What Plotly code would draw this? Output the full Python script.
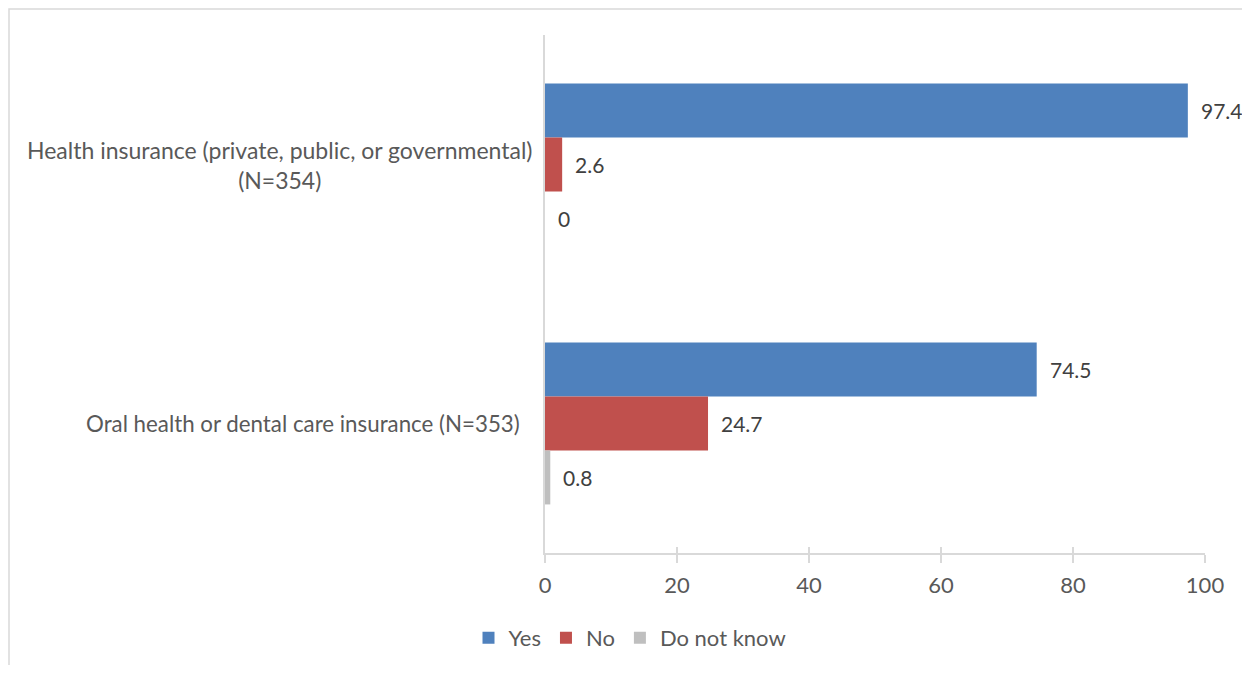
import plotly.graph_objects as go

categories = ["Health insurance (private, public, or governmental)<br>(N=354)",
              "Oral health or dental care insurance (N=353)"]
cat_keys = ["Health", "Oral"]
series_names = ["Yes", "No", "Do not know"]
yes_vals = [97.4, 74.5]
no_vals = [2.6, 24.7]
dk_vals = [0, 0.8]
series_values = [yes_vals, no_vals, dk_vals]
colors = ["#4F81BD", "#C0504D", "#BFBFBF"]
x_ticks = [0, 20, 40, 60, 80, 100]

OFF = 8  # page body margin
W, H = 1250 - 2 * OFF, 673 - 2 * OFF
L, T = 545 - OFF, 35 - OFF
R = W - (1205 - OFF)
B = H - (553 - OFF)
pw, ph = W - L - R, H - T - B

def px_to_paper_x(px):
    return (px - OFF - L) / pw

def px_to_paper_y(py):
    return (H - B - (py - OFF)) / ph

def px_to_cont_x(px):
    return (px - OFF) / W

def px_to_cont_y(py):
    return 1 - (py - OFF) / H

MAIN = "Lato, Carlito, Calibri, Open Sans, sans-serif"

fig = go.Figure()
for name, vals, col in zip(series_names, series_values, colors):
    fig.add_trace(go.Bar(
        y=cat_keys, x=vals, name=name, orientation="h",
        marker=dict(color=col, line=dict(width=0)),
        hoverinfo="x+name",
    ))

# invisible trace to activate the overlay axis for crossing ticks
fig.add_trace(go.Scatter(x=[0, 100], y=cat_keys, xaxis="x2", mode="markers",
                         marker=dict(opacity=0), showlegend=False, hoverinfo="skip"))

annotations = []
annotations.append(dict(xref="paper", yref="y", x=px_to_paper_x(279), y=cat_keys[0],
                        text=categories[0], showarrow=False, xanchor="center", yanchor="middle",
                        align="center", font=dict(family=MAIN, size=23, color="#595959")))
annotations.append(dict(xref="paper", yref="y", x=px_to_paper_x(522), y=cat_keys[1],
                        text=categories[1], showarrow=False, xanchor="right", yanchor="middle",
                        align="right", font=dict(family=MAIN, size=22.3, color="#595959")))

bar_h = 54
shifts = [bar_h, 0, -bar_h]
for vals, ys in zip(series_values, shifts):
    for c, v in zip(cat_keys, vals):
        annotations.append(dict(xref="x", yref="y", x=v, y=c, text=f"{v:g}",
                                showarrow=False, xanchor="left", yanchor="middle",
                                xshift=11, yshift=ys,
                                font=dict(family=MAIN, size=21, color="#404040")))

fig.update_layout(
    width=W, height=H,
    margin=dict(l=L, r=R, t=T, b=B, pad=0, autoexpand=False),
    paper_bgcolor="white", plot_bgcolor="white",
    barmode="group", bargap=0.375, bargroupgap=0,
    showlegend=True,
    legend=dict(orientation="h", xref="container", yref="container",
                x=px_to_cont_x(630), xanchor="center",
                y=px_to_cont_y(638), yanchor="middle",
                font=dict(family=MAIN, size=22, color="#595959"),
                traceorder="normal", itemclick=False, itemwidth=30),
    xaxis=dict(range=[0, 100], tickvals=x_ticks, showgrid=False, zeroline=False,
               showline=True, linecolor="#D9D9D9", linewidth=1.5,
               ticks="outside", ticklen=8, tickcolor="#D9D9D9", tickwidth=1.5,
               ticklabelstandoff=4,
               tickfont=dict(family=MAIN, size=22, color="#595959"),
               fixedrange=True),
    xaxis2=dict(range=[0, 100], overlaying="x", side="bottom", anchor="y",
                tickvals=x_ticks, showticklabels=False, showgrid=False, zeroline=False,
                showline=False, ticks="inside", ticklen=6, tickcolor="#D9D9D9", tickwidth=1.5),
    yaxis=dict(autorange="reversed", showticklabels=False, showgrid=False, zeroline=False,
               showline=True, linecolor="#D9D9D9", linewidth=1.5, ticks="",
               fixedrange=True),
    annotations=annotations,
    shapes=[dict(type="rect", xref="paper", yref="paper",
                 x0=px_to_paper_x(OFF + 1), x1=px_to_paper_x(1300),
                 y0=px_to_paper_y(720), y1=px_to_paper_y(OFF + 1),
                 line=dict(color="#D9D9D9", width=1.5), layer="below")],
    font=dict(family=MAIN),
)

fig.write_html("out.html")
